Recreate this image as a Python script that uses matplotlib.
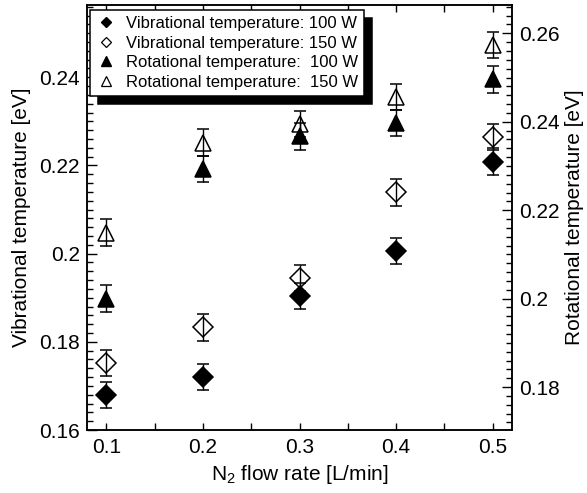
import matplotlib
matplotlib.use('Agg')
import matplotlib.pyplot as plt
from matplotlib.lines import Line2D
from matplotlib.ticker import MultipleLocator, FuncFormatter

plt.rcParams['font.family'] = ['Liberation Sans', 'DejaVu Sans']
plt.rcParams['mathtext.fontset'] = 'custom'
plt.rcParams['mathtext.rm'] = 'Liberation Sans'

# N2 flow rate [L/min]
flow = [0.1, 0.2, 0.3, 0.4, 0.5]

# vibrational temperature [eV] (left axis)
vib_100 = [0.168, 0.172, 0.1904, 0.2006, 0.2209]
vib_150 = [0.1752, 0.1833, 0.1945, 0.2139, 0.2264]
vib_err_100 = [0.003, 0.003, 0.003, 0.003, 0.003]
vib_err_150 = [0.003, 0.003, 0.003, 0.003, 0.003]

# rotational temperature [eV] (right axis)
rot_100 = [0.2, 0.2293, 0.2367, 0.2397, 0.2496]
rot_150 = [0.2149, 0.2353, 0.2395, 0.2456, 0.2574]
rot_err_100 = [0.003, 0.003, 0.003, 0.003, 0.003]
rot_err_150 = [0.003, 0.003, 0.003, 0.003, 0.003]

labels = ['Vibrational temperature: 100 W',
          'Vibrational temperature: 150 W',
          'Rotational temperature:  100 W',
          'Rotational temperature:  150 W']

fig = plt.figure(figsize=(5.87, 4.93), dpi=100)
ax = fig.add_axes([87 / 587, 63 / 493, 425 / 587, 425 / 493])
ax2 = ax.twinx()

eb = dict(ls='none', color='black', ecolor='black', elinewidth=1.0,
          capsize=4.5, capthick=1.0, mec='black', mew=1.1)

ax.errorbar(flow, vib_100, yerr=vib_err_100, marker='D', ms=10.5, mfc='black', **eb)
ax.errorbar(flow, vib_150, yerr=vib_err_150, marker='D', ms=10.5, mfc='none', **eb)
ax2.errorbar(flow, rot_100, yerr=rot_err_100, marker='^', ms=12, mfc='black', **eb)
ax2.errorbar(flow, rot_150, yerr=rot_err_150, marker='^', ms=12, mfc='none', **eb)

ax.set_xlim(0.08, 0.52)
ax.set_ylim(0.16, 0.2564)
ax2.set_ylim(0.1703, 0.2664)

fmt = FuncFormatter(lambda v, p: '{:g}'.format(round(v, 3)))
ax.xaxis.set_major_locator(MultipleLocator(0.1))
ax.xaxis.set_minor_locator(MultipleLocator(0.05))
ax.xaxis.set_major_formatter(fmt)
for a in (ax, ax2):
    a.yaxis.set_major_locator(MultipleLocator(0.02))
    a.yaxis.set_minor_locator(MultipleLocator(0.002))
    a.yaxis.set_major_formatter(fmt)
    for s in a.spines.values():
        s.set_linewidth(1.1)

ax.tick_params(axis='x', which='both', direction='in', top=True, length=5,
               width=1.0, labelsize=15, pad=6)
ax.tick_params(axis='y', which='major', direction='in', length=7, width=1.0,
               labelsize=15, pad=5)
ax.tick_params(axis='y', which='minor', direction='in', length=4, width=1.0)
ax2.tick_params(axis='y', which='major', direction='in', length=7, width=1.0,
                labelsize=15, pad=5)
ax2.tick_params(axis='y', which='minor', direction='in', length=4, width=1.0)

ax.set_xlabel('N$_\\mathregular{2}$ flow rate [L/min]', fontsize=15, labelpad=4)
ax.set_ylabel('Vibrational temperature [eV]', fontsize=15, labelpad=6)
ax2.set_ylabel('Rotational temperature [eV]', fontsize=15, labelpad=4)

handles = [
    Line2D([], [], ls='none', marker='D', ms=5, mfc='black', mec='black'),
    Line2D([], [], ls='none', marker='D', ms=5, mfc='white', mec='black', mew=0.9),
    Line2D([], [], ls='none', marker='^', ms=7, mfc='black', mec='black'),
    Line2D([], [], ls='none', marker='^', ms=7, mfc='white', mec='black', mew=0.9),
]
leg = ax2.legend(handles, labels, loc='upper left', bbox_to_anchor=(0.007, 0.988),
                 borderaxespad=0, fontsize=12, frameon=True, fancybox=False,
                 edgecolor='black', framealpha=1, labelspacing=0.28,
                 handlelength=1.2, handletextpad=0.6, borderpad=0.35,
                 shadow={'ox': 6, 'oy': -6, 'color': 'black', 'alpha': 1})
leg.get_frame().set_linewidth(1.1)

fig.savefig('out.png', dpi=100)
